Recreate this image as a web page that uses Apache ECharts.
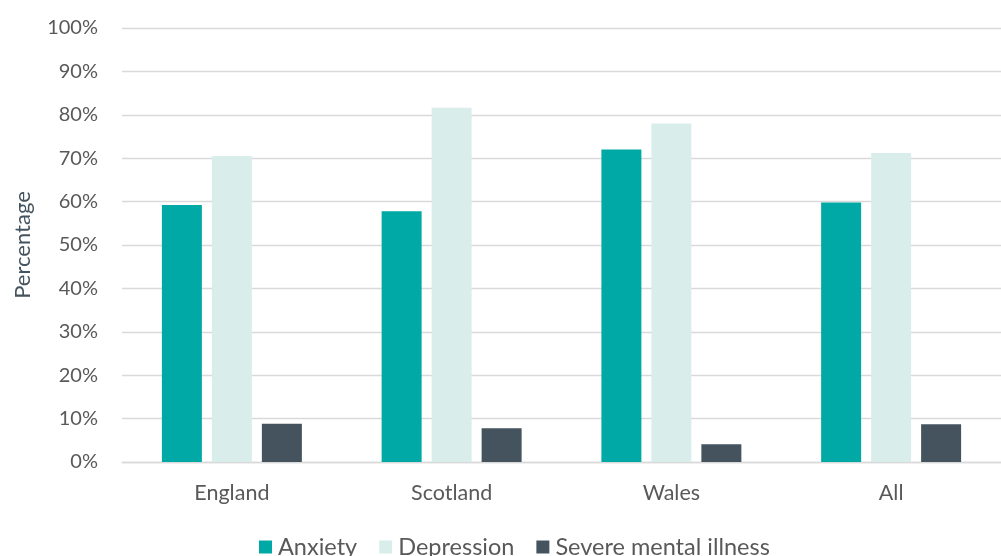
<!DOCTYPE html>
<html>
<head>
<meta charset="utf-8">
<script src="https://cdn.jsdelivr.net/npm/echarts@6/dist/echarts.min.js"></script>
<style>
  html, body { margin: 0; padding: 0; background: #fff; }
  #chart { width: 1001px; height: 556px; }
</style>
</head>
<body>
<div id="chart"></div>
<script>
// Conditions reported, by nation (percent of respondents)
const categories = ['England', 'Scotland', 'Wales', 'All'];
const anxiety = [59.2, 57.8, 72.0, 59.8];
const depression = [70.5, 81.6, 78.0, 71.2];
const severeMentalIllness = [8.8, 7.8, 4.1, 8.7];
const seriesNames = ['Anxiety', 'Depression', 'Severe mental illness'];
const seriesColors = ['#00A9A5', '#D9EEEB', '#44535E'];

const FONT = 'Lato, "Open Sans", sans-serif';
const chart = echarts.init(document.getElementById('chart'), null, { renderer: 'canvas' });

const values = [anxiety, depression, severeMentalIllness];

chart.setOption({
  animation: false,
  backgroundColor: '#ffffff',
  textStyle: { fontFamily: FONT },
  grid: { left: 122, right: 0, top: 28, bottom: 94, containLabel: false },
  legend: {
    top: 530,
    left: 254,
    itemWidth: 13,
    itemHeight: 13,
    itemGap: 22,
    icon: 'rect',
    textStyle: { fontFamily: FONT, fontSize: 23.5, color: '#595959', padding: [0, 0, 0, 1] },
    data: seriesNames
  },
  xAxis: {
    type: 'category',
    data: categories,
    axisTick: { show: false },
    axisLine: { show: true, lineStyle: { color: '#d9d9d9', width: 1.3 } },
    axisLabel: { fontFamily: FONT, fontSize: 21.5, color: '#595959', margin: 20 }
  },
  yAxis: {
    type: 'value',
    min: 0,
    max: 100,
    interval: 10,
    name: 'Percentage',
    nameLocation: 'middle',
    nameGap: 88,
    nameRotate: 90,
    nameTextStyle: { fontFamily: FONT, fontSize: 22, color: '#44535E' },
    axisLine: { show: false },
    axisTick: { show: false },
    axisLabel: { fontFamily: FONT, fontSize: 20, color: '#595959', margin: 24, formatter: '{value}%' },
    splitLine: { lineStyle: { color: '#d9d9d9', width: 1.3 } }
  },
  series: seriesNames.map((name, i) => ({
    name,
    type: 'bar',
    data: values[i],
    barWidth: '18.2%',
    barGap: '25%',
    itemStyle: { color: seriesColors[i] }
  }))
});
</script>
</body>
</html>
